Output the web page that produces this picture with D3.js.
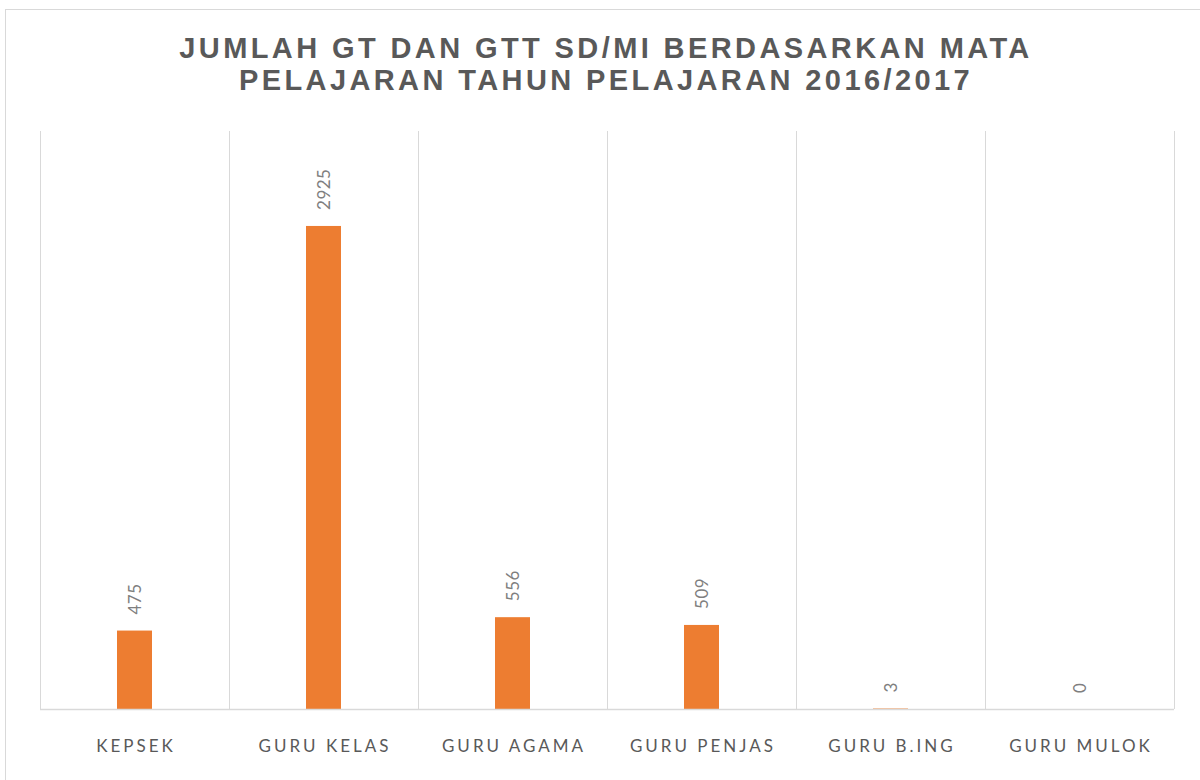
<!DOCTYPE html>
<html><head><meta charset="utf-8">
<script src="https://cdn.jsdelivr.net/npm/d3@7"></script>
<style>body{margin:0;background:#fff;} svg{display:block;}</style>
</head><body>
<script>
const titleLines = ["JUMLAH GT DAN GTT SD/MI BERDASARKAN MATA", "PELAJARAN TAHUN PELAJARAN 2016/2017"];
const categories = ["KEPSEK", "GURU KELAS", "GURU AGAMA", "GURU PENJAS", "GURU B.ING", "GURU MULOK"];
const values = [475, 2925, 556, 509, 3, 0];
const yDomain = [0, 3500];

const W = 1200, H = 780;
const svg = d3.select("body").append("svg").attr("width", W).attr("height", H);
svg.append("rect").attr("width", W).attr("height", H).attr("fill", "#fff");
svg.append("rect").attr("x", 5.5).attr("y", 9.5).attr("width", W).attr("height", H)
  .attr("fill", "none").attr("stroke", "#d9d9d9").attr("stroke-width", 1);

const m = {left: 40, right: 1174, top: 131, bottom: 709};
const x = d3.scaleBand().domain(categories).range([m.left, m.right]).paddingInner(0).paddingOuter(0);
const y = d3.scaleLinear().domain(yDomain).range([m.bottom, m.top]);

// vertical gridlines at category boundaries
const bounds = categories.map(c => x(c)).concat([m.right]);
svg.append("g").selectAll("line").data(bounds).join("line")
  .attr("x1", d => d + 0.5).attr("x2", d => d + 0.5)
  .attr("y1", m.top).attr("y2", m.bottom)
  .attr("stroke", "#d9d9d9").attr("stroke-width", 1);

// bars
const barW = 35;
svg.append("g").selectAll("rect").data(values).join("rect")
  .attr("x", (d, i) => x(categories[i]) + x.bandwidth() / 2 - barW / 2)
  .attr("y", d => y(d))
  .attr("width", barW)
  .attr("height", d => y(0) - y(d))
  .attr("fill", "#ed7d31");

// baseline axis
const xAxis = d3.axisBottom(x).tickSize(0).tickPadding(0);
const ax = svg.append("g").attr("transform", `translate(0,${m.bottom + 0.5})`).call(xAxis);
ax.select(".domain").attr("stroke", "#d9d9d9").attr("stroke-width", 1.5).attr("d", `M${m.left},0H${m.right}`);
ax.selectAll("text")
  .attr("x", 1.5)
  .attr("y", 37).attr("dy", "0.35em")
  .attr("font-family", "Lato, 'Open Sans', sans-serif")
  .attr("font-size", 17).attr("fill", "#595959")
  .attr("letter-spacing", "3px");

// data labels rotated
svg.append("g").selectAll("text").data(values).join("text")
  .attr("transform", (d, i) => `translate(${x(categories[i]) + x.bandwidth() / 2 + 6},${y(d) - 16}) rotate(-90)`)
  .attr("text-anchor", "start")
  .attr("font-family", "Lato, 'Open Sans', sans-serif")
  .attr("font-size", 17).attr("fill", "#7f7f7f")
  .attr("letter-spacing", "0.5px")
  .text(d => d);

// title
svg.append("g").selectAll("text").data(titleLines).join("text")
  .attr("x", 606).attr("y", (d, i) => 58 + i * 32)
  .attr("text-anchor", "middle")
  .attr("font-family", "'Liberation Sans', Arial, sans-serif")
  .attr("font-weight", "bold").attr("font-size", 29)
  .attr("letter-spacing", "3.4px")
  .attr("fill", "#595959")
  .text(d => d);
</script>
</body></html>
